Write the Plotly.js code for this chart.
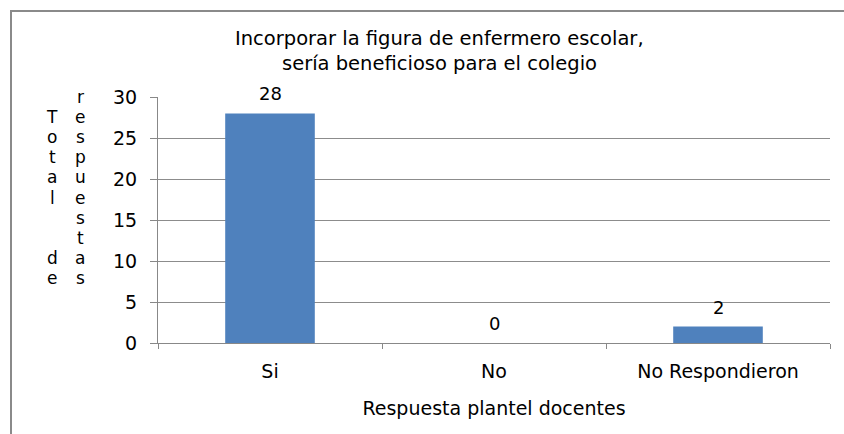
<!DOCTYPE html>
<html>
<head>
<meta charset="utf-8">
<script src="https://cdn.plot.ly/plotly-3.0.1.min.js"></script>
<style>
  html, body { margin: 0; padding: 0; background: #fff; }
  #chart { width: 844px; height: 434px; }
</style>
</head>
<body>
<div id="chart"></div>
<script>
// ---- data ----
const categories = ["Si", "No", "No Respondieron"];
const values = [28, 0, 2];
const valueLabels = ["28", "0", "2"];
const yTicks = [0, 5, 10, 15, 20, 25, 30];
const titleLines = ["Incorporar la figura de enfermero escolar,", "sería beneficioso para el colegio"];
const xTitle = "Respuesta plantel docentes";
const yTitleCol1 = " Total  de";
const yTitleCol2 = "respuestas";

// ---- layout geometry ----
const W = 844, H = 434;
const L = 158, R = 14, T = 97, B = 91;
const pw = W - L - R, ph = H - T - B;
const px = x => (x - L) / pw;
const py = y => 1 - (y - T) / ph;

const font = "DejaVu Sans, Liberation Sans, Arial, sans-serif";
const black = "#000";

const trace = {
  type: "bar",
  x: categories,
  y: values,
  cliponaxis: false,
  marker: { color: "#4F81BD", line: { width: 0 } },
  hoverinfo: "skip"
};

const annotations = [];
// title lines
titleLines.forEach((t, i) => {
  annotations.push({
    text: t, xref: "paper", yref: "paper",
    x: px(439), y: py(39 + 25 * i), xanchor: "center", yanchor: "middle",
    showarrow: false, font: { family: font, size: 19.5, color: black }
  });
});
// value labels above bars
categories.forEach((c, i) => {
  annotations.push({
    text: valueLabels[i], x: c, y: values[i], xref: "x", yref: "y",
    xanchor: "center", yanchor: "bottom", yshift: 7,
    showarrow: false, font: { family: font, size: 18, color: black }
  });
});
// vertical y-axis title, letter by letter in two columns
[[yTitleCol1, 52], [yTitleCol2, 80]].forEach(([s, xpix]) => {
  s.split("").forEach((ch, i) => {
    if (ch === " ") return;
    annotations.push({
      text: ch, xref: "paper", yref: "paper",
      x: px(xpix), y: py(97 + 20.1 * i), xanchor: "center", yanchor: "middle",
      showarrow: false, font: { family: font, size: 17, color: black }
    });
  });
});

const layout = {
  width: W, height: H,
  margin: { l: L, r: R, t: T, b: B, pad: 0 },
  paper_bgcolor: "#fff",
  plot_bgcolor: "#fff",
  showlegend: false,
  bargap: 0.6,
  font: { family: font, color: black },
  xaxis: {
    type: "category",
    tickson: "boundaries",
    ticks: "outside", ticklen: 5, tickcolor: "#888", tickwidth: 1,
    showline: true, linecolor: "#888", linewidth: 1,
    showgrid: false,
    ticklabelstandoff: 11,
    tickfont: { family: font, size: 19, color: black },
    title: { text: xTitle, font: { family: font, size: 19, color: black }, standoff: 20 },
    fixedrange: true
  },
  yaxis: {
    range: [0, 30],
    tickvals: yTicks,
    ticktext: yTicks.map(String),
    ticks: "outside", ticklen: 7, tickcolor: "#888", tickwidth: 1,
    showline: true, linecolor: "#888", linewidth: 1,
    showgrid: true, gridcolor: "#8c8c8c", gridwidth: 1,
    zeroline: false,
    ticklabelstandoff: 9,
    tickfont: { family: font, size: 19, color: black },
    fixedrange: true
  },
  annotations: annotations,
  shapes: [
    {
      type: "rect", xref: "paper", yref: "paper", layer: "above",
      x0: px(11), x1: px(W + 20), y0: py(11), y1: py(H + 20),
      line: { color: "#8a8a8a", width: 2 }, fillcolor: "rgba(0,0,0,0)"
    }
  ]
};

Plotly.newPlot("chart", [trace], layout, { staticPlot: true, displayModeBar: false });
</script>
</body>
</html>
